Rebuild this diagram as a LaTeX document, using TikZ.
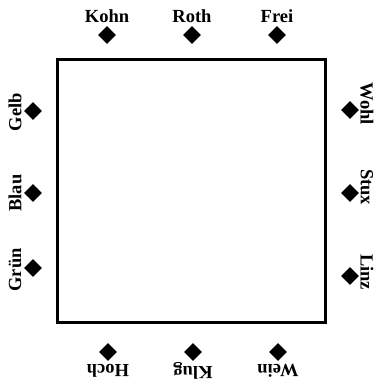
\documentclass[tikz,border=0pt]{standalone}
\usepackage{fontspec}
\setmainfont{Liberation Serif}
\usepackage{tikz}
\usetikzlibrary{shapes.geometric, positioning}

\begin{document}
\begin{tikzpicture}[
    x=1pt, y=1pt,
    tablebox/.style={rectangle, draw=black, line width=3pt, minimum width=268pt, minimum height=263pt, inner sep=0pt},
    seat/.style={diamond, fill=black, minimum width=18pt, minimum height=18pt, inner sep=0pt},
    guest/.style={inner sep=0pt, font=\fontsize{18.5}{20}\selectfont\bfseries}
]
\useasboundingbox (0,0) rectangle (377,381);

% The table
\node[tablebox] (table) at (191,189.5) {};

% Top side
\node[seat] (kohn_seat) at (107,346) {};
\node[seat] (roth_seat) at (192,346) {};
\node[seat] (frei_seat) at (277,346) {};
\node[guest, above=3pt of kohn_seat] (kohn) {Kohn};
\node[guest, above=3pt of roth_seat] (roth) {Roth};
\node[guest, above=3pt of frei_seat] (frei) {Frei};

% Left side
\node[seat] (gelb_seat) at (33,270) {};
\node[seat] (blau_seat) at (33,188) {};
\node[seat] (gruen_seat) at (33,113) {};
\node[guest, rotate=90] (gelb) at (15,269) {Gelb};
\node[guest, rotate=90] (blau) at (15,188) {Blau};
\node[guest, rotate=90] (gruen) at (15,111) {Grün};

% Right side
\node[seat] (wohl_seat) at (350,271) {};
\node[seat] (stux_seat) at (350,188) {};
\node[seat] (linz_seat) at (350,105) {};
\node[guest, rotate=-90] (wohl) at (367,277) {Wohl};
\node[guest, rotate=-90] (stux) at (367,194) {Stux};
\node[guest, rotate=-90] (linz) at (367,109) {Linz};

% Bottom side
\node[seat] (hoch_seat) at (108,29) {};
\node[seat] (klug_seat) at (193,29) {};
\node[seat] (wein_seat) at (278,29) {};
\node[guest, rotate=180] (hoch) at (108,10) {Hoch};
\node[guest, rotate=180] (klug) at (193,10) {Klug};
\node[guest, rotate=180] (wein) at (278,10) {Wein};

\end{tikzpicture}
\end{document}
